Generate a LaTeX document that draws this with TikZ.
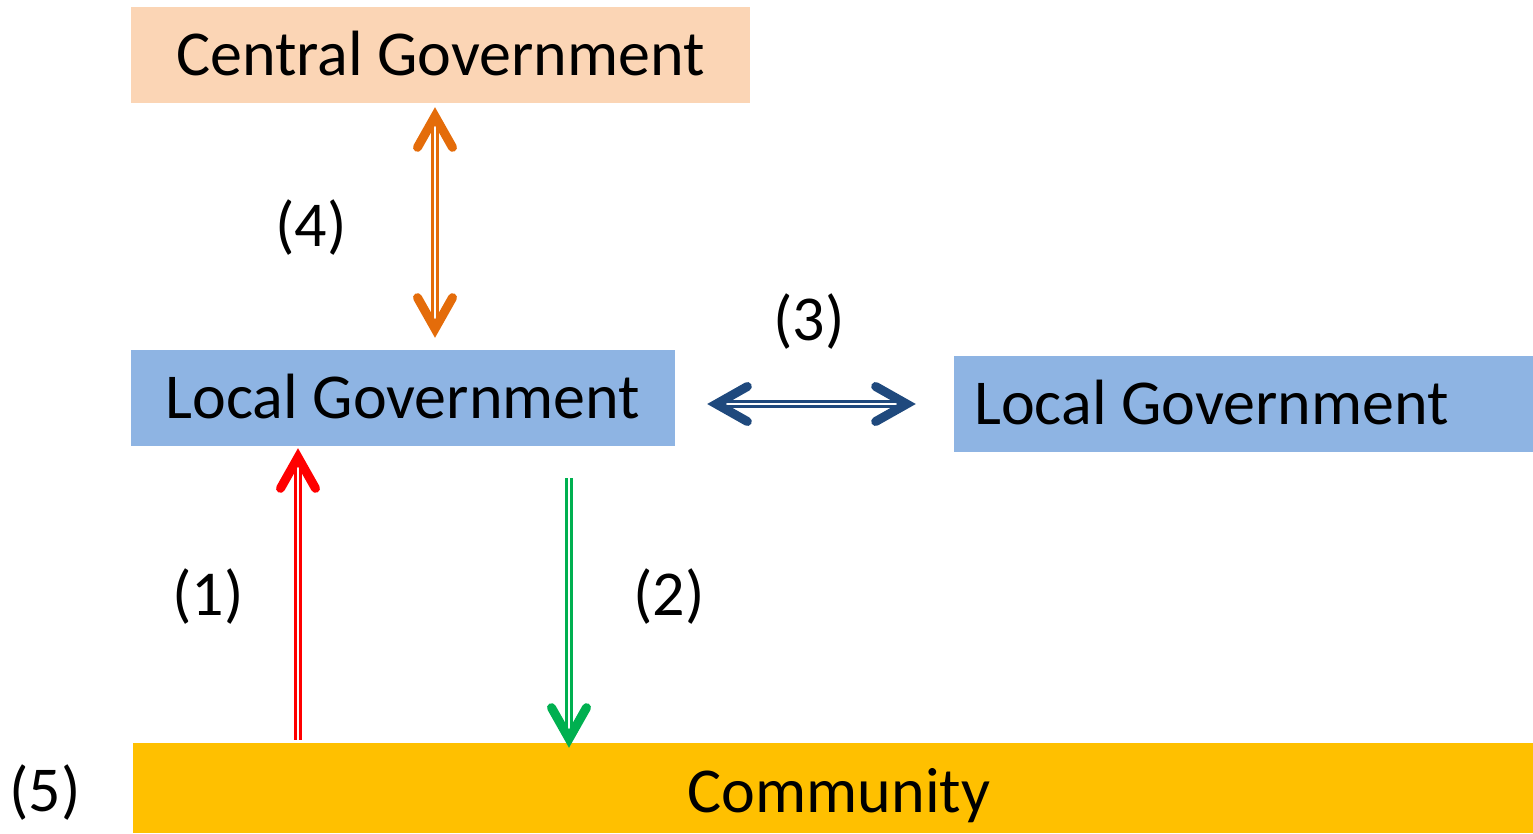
\documentclass[tikz,border=0pt]{standalone}
\usepackage{fontspec}
\setmainfont{Carlito}
\usetikzlibrary{arrows.meta,calc}
\definecolor{peach}{HTML}{FBD5B5}
\definecolor{lgblue}{HTML}{8EB4E3}
\definecolor{gold}{HTML}{FFC000}
\definecolor{orangec}{HTML}{E46C0A}
\definecolor{navy}{HTML}{1F497D}
\definecolor{redc}{HTML}{FF0000}
\definecolor{greenc}{HTML}{00B050}
\tikzset{
  box/.style={rectangle, inner sep=0pt, text height=41pt, text depth=0pt,
    font=\fontsize{64}{70}\selectfont},
  lbl/.style={inner sep=0pt, font=\fontsize{64}{70}\selectfont},
  vtip/.tip={Straight Barb[length=31pt, width=35pt, line width=9pt, line cap=round, line join=miter]},
  dbl/.style={draw=#1, double=white, line width=3pt, double distance=2.6pt},
}
\begin{document}
\begin{tikzpicture}[x=1pt,y=-1pt]
\useasboundingbox (0,0) rectangle (1533,833);
\node[box, fill=peach, minimum width=619pt, minimum height=96pt] (cg) at (440.5,55) {Central Government};
\node[box, fill=lgblue, minimum width=544pt, minimum height=96pt] (lg1) at (403,398) {Local Government};
\node[box, fill=lgblue, minimum width=579pt, minimum height=96pt] (lg2) at (1243.5,404) {Local Government\hspace*{64pt}};
\node[box, fill=gold, minimum width=1400pt, minimum height=90pt] (comm) at (833,788) {\hspace*{12pt}\raisebox{-4pt}{Community}};
\node[lbl] (l4) at (311,228) {(4)};
\node[lbl] (l3) at (809,322) {(3)};
\node[lbl] (l1) at (208,597) {(1)};
\node[lbl] (l2) at (669,597) {(2)};
\node[lbl] (l5) at (45,793) {(5)};
\coordinate (ox) at (435,0);
\coordinate (rx) at (298,0);
\coordinate (gx) at (569,0);
\draw[dbl=orangec, {vtip}-{vtip}] ($(ox |- cg.south)+(0,4)$) -- ($(ox |- lg1.north)+(0,-12)$);
\draw[dbl=navy, {vtip}-{vtip}] ($(lg1.east)+(32,6)$) -- ($(lg2.west)+(-38,0)$);
\draw[dbl=redc, -{vtip}] ($(rx |- comm.north)+(0,-3)$) -- ($(rx |- lg1.south)+(0,2)$);
\draw[dbl=greenc, -{vtip}] ($(gx |- lg1.south)+(0,32)$) -- ($(gx |- comm.north)+(0,5)$);
\end{tikzpicture}
\end{document}
